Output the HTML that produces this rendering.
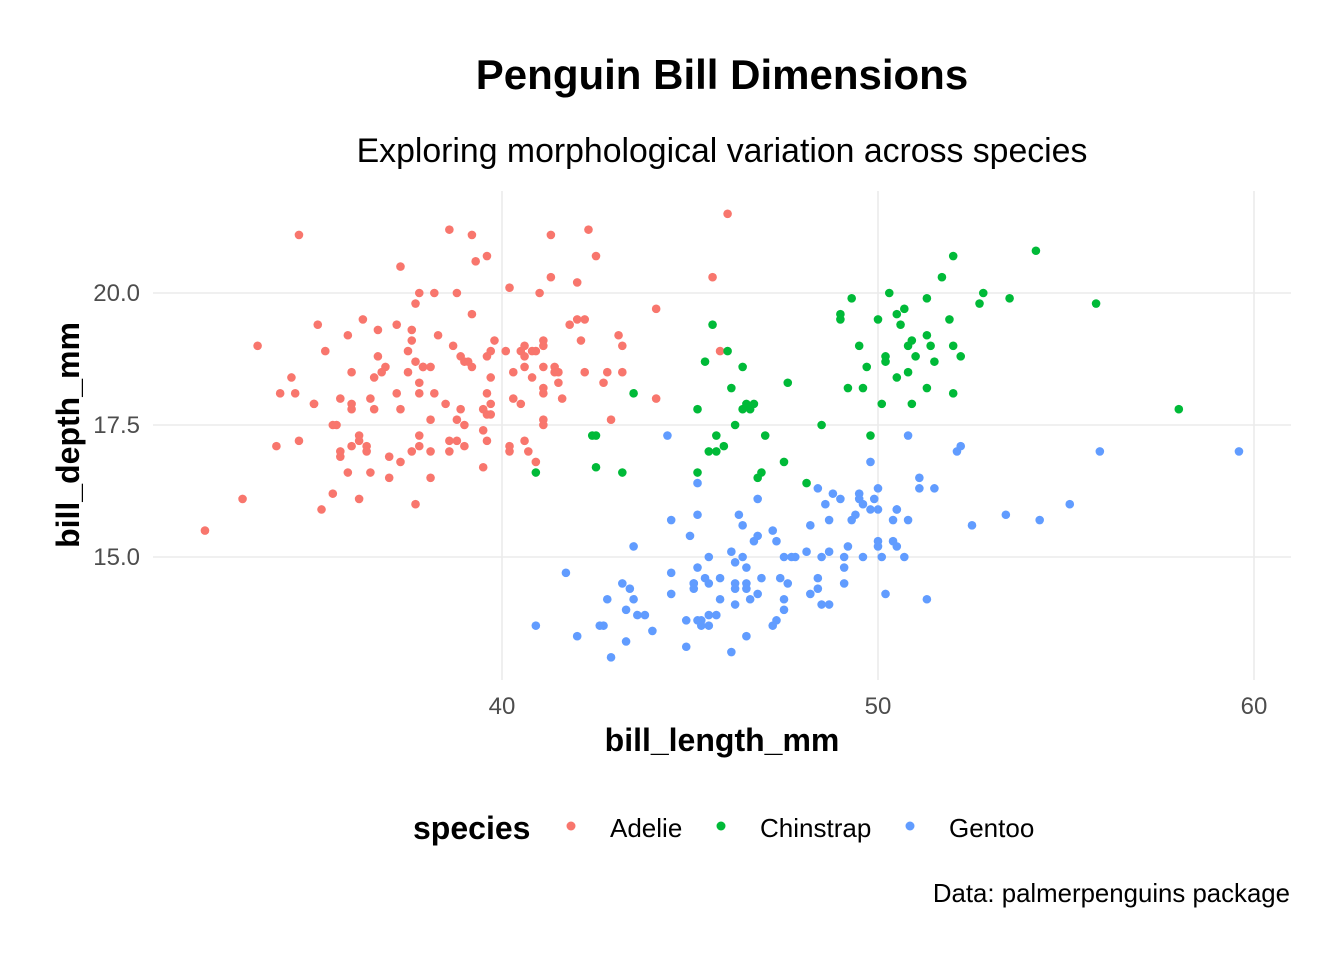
<!DOCTYPE html>
<html><head><meta charset="utf-8">
<style>
html,body{margin:0;padding:0;background:#fff;}
svg{display:block;font-family:"Liberation Sans",Arial,sans-serif;}
</style></head>
<body>
<svg id="chart" width="1344" height="960" viewBox="0 0 1344 960" xmlns="http://www.w3.org/2000/svg">
<rect width="1344" height="960" fill="#fff"/>
<text x="722" y="89" text-anchor="middle" font-size="42" font-weight="bold" fill="#000">Penguin Bill Dimensions</text>
<text x="722" y="162" text-anchor="middle" font-size="33.8" fill="#000">Exploring morphological variation across species</text>
<g id="grid"></g>
<g id="points"></g>
<g id="ticks"></g>
<text x="722" y="751" text-anchor="middle" font-size="32" font-weight="bold" fill="#000">bill_length_mm</text>
<text transform="translate(79,435) rotate(-90)" text-anchor="middle" font-size="32" font-weight="bold" fill="#000">bill_depth_mm</text>
<g>
<text x="413" y="839" font-size="32" font-weight="bold" fill="#000">species</text>
<circle cx="571" cy="826" r="4.5" fill="#F8766D"/>
<text x="610" y="837" font-size="26" fill="#000">Adelie</text>
<circle cx="721" cy="826" r="4.5" fill="#00BA38"/>
<text x="760" y="837" font-size="26" fill="#000">Chinstrap</text>
<circle cx="910" cy="826" r="4.5" fill="#619CFF"/>
<text x="949" y="837" font-size="26" fill="#000">Gentoo</text>
</g>
<text x="1290" y="902" text-anchor="end" font-size="25.8" fill="#000">Data: palmerpenguins package</text>
</svg>
<script>
const xTicks=[40,50,60];
const yTicks=[15.0,17.5,20.0];
const yTickLabels=["15.0","17.5","20.0"];
const adelie=[[39.1,18.7],[39.5,17.4],[40.3,18],[36.7,19.3],[39.3,20.6],[38.9,17.8],[39.2,19.6],[34.1,18.1],[42,20.2],[37.8,17.1],[37.8,17.3],[41.1,17.6],[38.6,21.2],[34.6,21.1],[36.6,17.8],[38.7,19],[42.5,20.7],[34.4,18.4],[46,21.5],[37.8,18.3],[37.7,18.7],[35.9,19.2],[38.2,18.1],[38.8,17.2],[35.3,18.9],[40.6,18.6],[40.5,17.9],[37.9,18.6],[40.5,18.9],[39.5,16.7],[37.2,18.1],[39.5,17.8],[40.9,18.9],[36.4,17],[39.2,21.1],[38.8,20],[42.2,18.5],[37.6,19.3],[39.8,19.1],[36.5,18],[40.8,18.4],[36,18.5],[44.1,19.7],[37,16.9],[39.6,18.8],[41.1,19],[37.5,18.9],[36,17.9],[42.3,21.2],[39.6,17.7],[40.1,18.9],[35,17.9],[42,19.5],[34.5,18.1],[41.4,18.6],[39,17.5],[40.6,18.8],[36.5,16.6],[37.6,19.1],[35.7,16.9],[41.3,21.1],[37.6,17],[41.1,18.2],[36.4,17.1],[41.6,18],[35.5,16.2],[41.1,19.1],[35.9,16.6],[41.8,19.4],[33.5,19],[39.7,18.4],[39.6,17.2],[45.8,18.9],[35.5,17.5],[42.8,18.5],[40.9,16.8],[37.2,19.4],[36.2,16.1],[42.1,19.1],[34.6,17.2],[42.9,17.6],[36.7,18.8],[35.1,19.4],[37.3,17.8],[41.3,20.3],[36.3,19.5],[36.9,18.6],[38.3,19.2],[38.9,18.8],[35.7,18],[41.1,18.1],[34,17.1],[39.6,18.1],[36.2,17.3],[40.8,18.9],[38.1,18.6],[40.3,18.5],[33.1,16.1],[43.2,18.5],[35,17.9],[41,20],[37.7,16],[37.8,20],[37.9,18.6],[39.7,18.9],[38.6,17.2],[38.2,20],[38.1,17],[43.2,19],[38.1,16.5],[45.6,20.3],[39.7,17.7],[42.2,19.5],[39.6,20.7],[42.7,18.3],[38.6,17],[37.3,20.5],[35.7,17],[41.1,18.6],[36.2,17.2],[37.7,19.8],[40.2,17],[41.4,18.5],[35.2,15.9],[40.6,19],[38.8,17.6],[41.5,18.3],[39,17.1],[44.1,18],[38.5,17.9],[43.1,19.2],[36.8,18.5],[37.5,18.5],[38.1,17.6],[41.1,17.5],[35.6,17.5],[40.2,20.1],[37,16.5],[39.7,17.9],[40.2,17.1],[40.6,17.2],[32.1,15.5],[40.7,17],[37.3,16.8],[39,18.7],[39.2,18.6],[36.6,18.4],[36,17.8],[37.8,18.1],[36,17.1],[41.5,18.5]];
const chinstrap=[[46.5,17.9],[50,19.5],[51.3,19.2],[45.4,18.7],[52.7,19.8],[45.2,17.8],[46.1,18.2],[51.3,18.2],[46,18.9],[51.3,19.9],[46.6,17.8],[51.7,20.3],[47,17.3],[52,18.1],[45.9,17.1],[50.5,19.6],[50.3,20],[58,17.8],[46.4,18.6],[49.2,18.2],[42.4,17.3],[48.5,17.5],[43.2,16.6],[50.6,19.4],[46.7,17.9],[52,19],[50.5,18.4],[49.5,19],[46.4,17.8],[52.8,20],[40.9,16.6],[54.2,20.8],[42.5,16.7],[51,18.8],[49.7,18.6],[47.5,16.8],[47.6,18.3],[52,20.7],[46.9,16.6],[53.5,19.9],[49,19.5],[46.2,17.5],[50.9,19.1],[45.5,17],[50.9,17.9],[50.8,18.5],[50.1,17.9],[49,19.6],[51.5,18.7],[49.8,17.3],[48.1,16.4],[51.4,19],[45.7,17.3],[50.7,19.7],[42.5,17.3],[52.2,18.8],[45.2,16.6],[49.3,19.9],[50.2,18.8],[45.6,19.4],[51.9,19.5],[46.8,16.5],[45.7,17],[55.8,19.8],[43.5,18.1],[49.6,18.2],[50.8,19],[50.2,18.7]];
const gentoo=[[46.1,13.2],[50,16.3],[48.7,14.1],[50,15.2],[47.6,14.5],[46.5,13.5],[45.4,14.6],[46.7,15.3],[43.3,13.4],[46.8,15.4],[40.9,13.7],[49,16.1],[45.5,13.7],[48.4,14.6],[45.8,14.6],[49.3,15.7],[42,13.5],[49.2,15.2],[46.2,14.5],[48.7,15.1],[50.2,14.3],[45.1,14.5],[46.5,14.5],[46.3,15.8],[42.9,13.1],[46.1,15.1],[44.5,14.3],[47.8,15],[48.2,14.3],[50,15.3],[47.3,15.3],[42.8,14.2],[45.1,14.5],[59.6,17],[49.1,14.8],[48.4,16.3],[42.6,13.7],[44.4,17.3],[44,13.6],[48.7,15.7],[42.7,13.7],[49.6,16],[45.3,13.7],[49.6,15],[50.5,15.9],[43.6,13.9],[45.5,13.9],[50.5,15.9],[44.9,13.3],[45.2,15.8],[46.6,14.2],[48.5,14.1],[45.1,14.4],[50.1,15],[46.5,14.4],[45,15.4],[43.8,13.9],[45.5,15],[43.2,14.5],[50.4,15.3],[45.3,13.8],[46.2,14.9],[45.7,13.9],[54.3,15.7],[45.8,14.2],[49.8,16.8],[46.2,14.4],[49.5,16.2],[43.5,14.2],[50.7,15],[47.7,15],[46.4,15.6],[48.2,15.6],[46.5,14.8],[46.4,15],[48.6,16],[47.5,14.2],[51.1,16.3],[45.2,13.8],[45.2,16.4],[49.1,14.5],[52.5,15.6],[47.4,14.6],[50,15.9],[44.9,13.8],[50.8,17.3],[43.4,14.4],[51.3,14.2],[47.5,14],[52.1,17],[47.5,15],[52.2,17.1],[45.5,14.5],[49.5,16.1],[44.5,14.7],[50.8,15.7],[49.4,15.8],[46.9,14.6],[48.4,14.4],[51.1,16.5],[48.5,15],[55.9,17],[47.2,15.5],[49.1,15],[47.3,13.8],[46.8,16.1],[41.7,14.7],[53.4,15.8],[43.3,14],[48.1,15.1],[50.5,15.2],[49.8,15.9],[43.5,15.2],[51.5,16.3],[46.2,14.1],[55.1,16],[44.5,15.7],[48.8,16.2],[47.2,13.7],[46.8,14.3],[50.4,15.7],[45.2,14.8],[49.9,16.1]];

const NS="http://www.w3.org/2000/svg";
const PL=153,PR=1291,PT=191,PB=680;
const X=v=>502+(v-40)*37.6;
const Y=v=>293-(v-20)*52.8;
const grid=document.getElementById('grid');
const ticks=document.getElementById('ticks');
function mk(t,a){const e=document.createElementNS(NS,t);for(const k in a)e.setAttribute(k,a[k]);return e;}
xTicks.forEach((t,i)=>{
  const l=mk('line',{x1:X(t),x2:X(t),y1:PT,y2:PB,stroke:'#EBEBEB','stroke-width':1.6});
  
  
  grid.appendChild(l);
  const tx=mk('text',{x:X(t),y:714,'text-anchor':'middle','font-size':24,fill:'#4D4D4D'});
  tx.textContent=String(t);
  
  
  ticks.appendChild(tx);
});
yTicks.forEach((t,i)=>{
  const l=mk('line',{x1:PL,x2:PR,y1:Y(t),y2:Y(t),stroke:'#EBEBEB','stroke-width':1.6});
  
  
  grid.appendChild(l);
  const tx=mk('text',{x:140,y:Y(t)+8,'text-anchor':'end','font-size':24,fill:'#4D4D4D'});
  tx.textContent=yTickLabels[i];
  
  
  ticks.appendChild(tx);
});
const pts=document.getElementById('points');
[[adelie,'#F8766D','adelie'],[chinstrap,'#00BA38','chinstrap'],[gentoo,'#619CFF','gentoo']].forEach(([arr,col,nm])=>{
  arr.forEach(d=>{
    const c=mk('circle',{cx:X(d[0]),cy:Y(d[1]),r:4.3,fill:col});
    
    
    pts.appendChild(c);
  });
});
</script>
</body></html>
